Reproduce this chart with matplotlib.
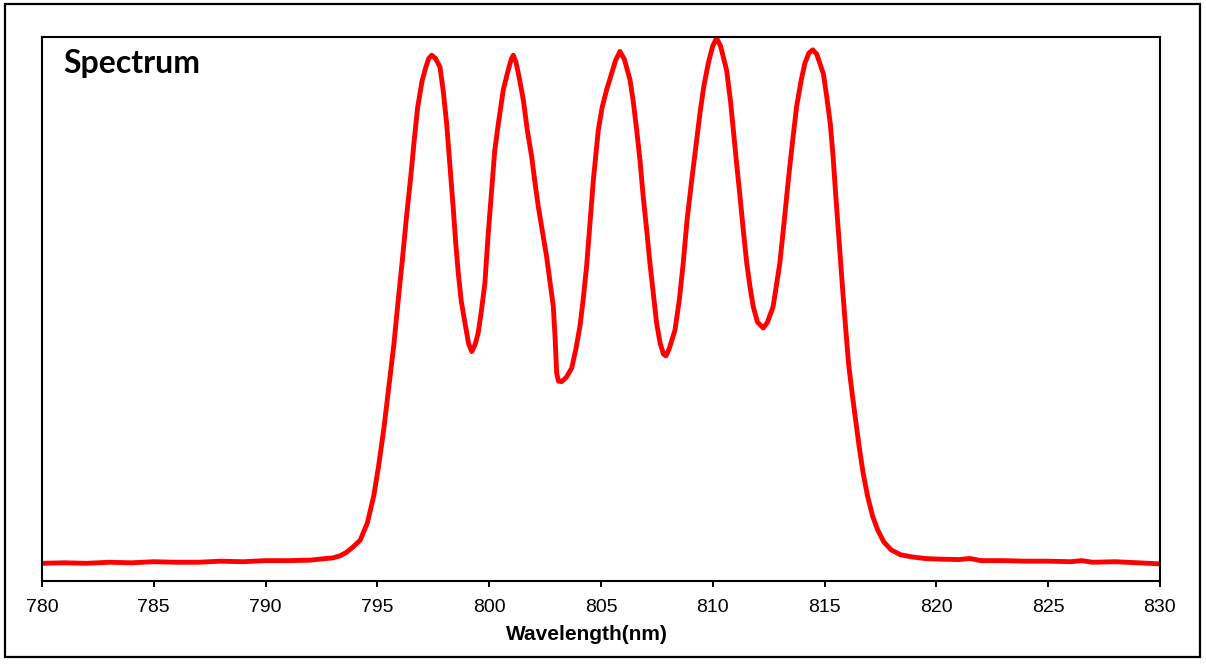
import matplotlib.pyplot as plt
from matplotlib.patches import Rectangle

# --- dati (lunghezza d'onda in nm, intensità normalizzata) ---
wl = [780.0, 781.0, 782.0, 783.0, 784.0, 785.0, 786.0, 787.0, 788.0, 789.0,
      790.0, 791.0, 792.0, 792.7, 793.0, 793.33, 793.6, 793.9, 794.23, 794.55,
      794.84, 795.05, 795.29, 795.5, 795.74, 795.93, 796.12, 796.3, 796.5, 796.65,
      796.8, 797.0, 797.17, 797.3, 797.43, 797.6, 797.8, 797.95, 798.1, 798.25,
      798.39, 798.5, 798.62, 798.75, 798.92, 799.08, 799.22, 799.37, 799.51, 799.65,
      799.81, 799.95, 800.11, 800.25, 800.41, 800.63, 800.85, 801.0, 801.08, 801.2,
      801.35, 801.53, 801.7, 801.9, 802.05, 802.2, 802.4, 802.57, 802.72, 802.87,
      802.95, 803.02, 803.1, 803.24, 803.45, 803.69, 803.88, 804.06, 804.2, 804.36,
      804.5, 804.66, 804.88, 805.05, 805.25, 805.45, 805.65, 805.85, 806.05, 806.3,
      806.45, 806.6, 806.75, 806.89, 807.05, 807.19, 807.35, 807.49, 807.65, 807.8,
      807.91, 808.05, 808.31, 808.5, 808.68, 808.85, 809.06, 809.25, 809.43, 809.6,
      809.8, 810.0, 810.17, 810.35, 810.62, 810.8, 810.92, 811.07, 811.22, 811.37,
      811.52, 811.67, 811.81, 812.0, 812.26, 812.45, 812.7, 812.85, 813.0, 813.2,
      813.38, 813.55, 813.75, 813.95, 814.12, 814.3, 814.47, 814.65, 814.95, 815.1,
      815.26, 815.38, 815.49, 815.6, 815.71, 815.82, 815.94, 816.08, 816.24, 816.4,
      816.54, 816.72, 816.92, 817.15, 817.38, 817.65, 817.98, 818.4, 818.9, 819.5,
      820.0, 821.0, 821.5, 822.0, 823.0, 824.0, 825.0, 826.0, 826.5, 827.0,
      828.0, 829.0, 830.0]
intensity = [0.020, 0.021, 0.020, 0.022, 0.021, 0.023, 0.022, 0.022, 0.024, 0.023,
             0.025, 0.025, 0.026, 0.029, 0.030, 0.034, 0.040, 0.050, 0.063, 0.095,
             0.146, 0.200, 0.271, 0.345, 0.429, 0.510, 0.587, 0.665, 0.744, 0.810,
             0.870, 0.920, 0.946, 0.962, 0.968, 0.962, 0.946, 0.900, 0.840, 0.760,
             0.685, 0.620, 0.561, 0.510, 0.468, 0.430, 0.415, 0.428, 0.450, 0.490,
             0.543, 0.630, 0.716, 0.790, 0.840, 0.903, 0.940, 0.962, 0.968, 0.955,
             0.925, 0.884, 0.830, 0.779, 0.730, 0.685, 0.635, 0.592, 0.545, 0.499,
             0.440, 0.375, 0.360, 0.359, 0.367, 0.384, 0.420, 0.462, 0.510, 0.575,
             0.650, 0.735, 0.828, 0.870, 0.903, 0.930, 0.958, 0.975, 0.960, 0.922,
             0.880, 0.828, 0.770, 0.704, 0.640, 0.580, 0.520, 0.468, 0.430, 0.410,
             0.407, 0.420, 0.455, 0.510, 0.580, 0.660, 0.735, 0.800, 0.860, 0.910,
             0.953, 0.985, 1.000, 0.985, 0.940, 0.880, 0.828, 0.765, 0.704, 0.640,
             0.580, 0.535, 0.499, 0.470, 0.459, 0.470, 0.499, 0.540, 0.580, 0.660,
             0.735, 0.800, 0.872, 0.920, 0.953, 0.972, 0.978, 0.970, 0.933, 0.890,
             0.839, 0.780, 0.713, 0.650, 0.587, 0.525, 0.461, 0.390, 0.335, 0.285,
             0.240, 0.190, 0.146, 0.108, 0.082, 0.060, 0.045, 0.036, 0.032, 0.029,
             0.028, 0.027, 0.029, 0.025, 0.025, 0.024, 0.024, 0.023, 0.025, 0.022,
             0.023, 0.021, 0.019]
xticks = [780, 785, 790, 795, 800, 805, 810, 815, 820, 825, 830]

plt.rcParams['font.family'] = ['Liberation Sans', 'DejaVu Sans']

fig = plt.figure(figsize=(12.06, 6.65), dpi=100)
ax = fig.add_axes([0.0348, 0.1263, 0.9270, 0.8181])

ax.plot(wl, intensity, color='#ff0000', linewidth=3.5, solid_capstyle='round')

ax.set_xlim(780, 830)
ax.set_ylim(-0.013, 1.002)
ax.set_xticks(xticks)
ax.set_yticks([])
ax.tick_params(axis='x', direction='out', length=4, width=1.4, labelsize=14, pad=9, colors='black')
for s in ax.spines.values():
    s.set_linewidth(1.5)
    s.set_color('black')

ax.set_xlabel('Wavelength(nm)', fontsize=15, fontweight='bold')
ax.xaxis.set_label_coords(0.4875, -0.080)

ax.text(0.019, 0.977, 'Spectrum', transform=ax.transAxes, fontsize=23,
        fontweight='bold', family='Lato', va='top', ha='left')

# cornice esterna
fig.patches.append(Rectangle((0.0042, 0.012), 0.9909, 0.982, transform=fig.transFigure,
                             fill=False, edgecolor='black', linewidth=1.6))

fig.savefig('out.png', dpi=100)
